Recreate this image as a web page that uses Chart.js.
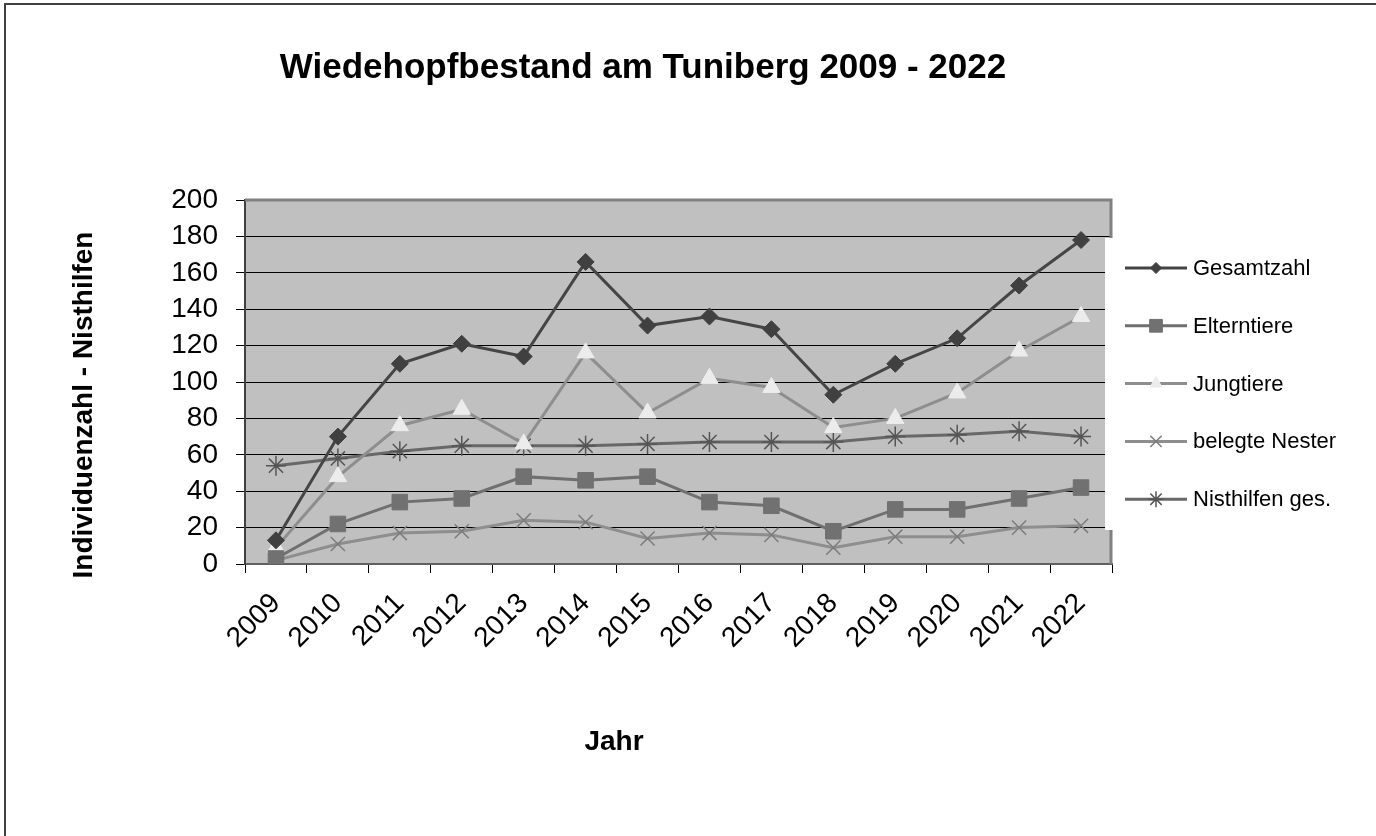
<!DOCTYPE html>
<html>
<head>
<meta charset="utf-8">
<title>Wiedehopfbestand am Tuniberg</title>
<script src="https://cdn.jsdelivr.net/npm/chart.js"></script>
<style>
  body { margin: 0; background: #fff; }
  #container { width: 1376px; height: 836px; }
</style>
</head>
<body>
<div id="container">
  <canvas id="chart" width="1376" height="836"></canvas>
</div>
<script>
'use strict';

// Data
const years = ['2009', '2010', '2011', '2012', '2013', '2014', '2015', '2016', '2017', '2018', '2019', '2020', '2021', '2022'];
const gesamtzahl = [13, 70, 110, 121, 114, 166, 131, 136, 129, 93, 110, 124, 153, 178];
const elterntiere = [3, 22, 34, 36, 48, 46, 48, 34, 32, 18, 30, 30, 36, 42];
const jungtiere = [9, 48, 76, 85, 66, 116, 83, 102, 97, 75, 80, 94, 117, 136];
const belegteNester = [2, 11, 17, 18, 24, 23, 14, 17, 16, 9, 15, 15, 20, 21];
const nisthilfen = [54, 58, 62, 65, 65, 65, 66, 67, 67, 67, 70, 71, 73, 70];

const yTicks = [0, 20, 40, 60, 80, 100, 120, 140, 160, 180, 200];

const chartTitle = 'Wiedehopfbestand am Tuniberg 2009 - 2022';
const yTitle = 'Individuenzahl - Nisthilfen';
const xTitle = 'Jahr';

const FONT = '"Liberation Sans", Arial, sans-serif';

// legend marker sizes (smaller than in the plot)
let legendRadius = [5.5, 9, 7, 8, 8];

// background, frame, titles and legend
const decoration = {
  id: 'decoration',
  beforeDraw(chart) {
    let ctx = chart.ctx;
    let area = chart.chartArea;
    ctx.save();
    ctx.fillStyle = '#ffffff';
    ctx.fillRect(0, 0, chart.width, chart.height);
    ctx.fillStyle = '#c0c0c0';
    ctx.fillRect(area.left, area.top, area.right - area.left, area.bottom - area.top);
    ctx.restore();
  },
  afterDraw(chart) {
    let ctx = chart.ctx;
    let area = chart.chartArea;
    ctx.save();

    // plot border top and right
    ctx.strokeStyle = '#808080';
    ctx.lineWidth = 3;
    ctx.beginPath();
    ctx.moveTo(area.left, area.top);
    ctx.lineTo(area.right - 1, area.top);
    ctx.lineTo(area.right - 1, area.bottom);
    ctx.stroke();

    // outer frame, only left and top are inside the picture
    ctx.strokeStyle = '#404040';
    ctx.lineWidth = 2;
    ctx.beginPath();
    ctx.moveTo(5, chart.height);
    ctx.lineTo(5, 4);
    ctx.lineTo(chart.width, 4);
    ctx.stroke();

    // titles
    ctx.fillStyle = '#000';
    ctx.textAlign = 'center';
    ctx.textBaseline = 'alphabetic';
    ctx.font = 'bold 35px ' + FONT;
    ctx.fillText(chartTitle, 643, 78);

    ctx.font = 'bold 28px ' + FONT;
    ctx.fillText(xTitle, 614, 750);

    ctx.save();
    ctx.translate(92, 405);
    ctx.rotate(-Math.PI / 2);
    ctx.fillText(yTitle, 0, 0);
    ctx.restore();

    // legend box
    ctx.fillStyle = '#ffffff';
    ctx.fillRect(1105, 238, chart.width - 1105, 292);

    ctx.font = '22px ' + FONT;
    ctx.textAlign = 'left';
    ctx.textBaseline = 'middle';
    chart.data.datasets.forEach(function (ds, i) {
      let y = 268 + i * 57.8;
      ctx.strokeStyle = ds.borderColor;
      ctx.lineWidth = 3;
      ctx.beginPath();
      ctx.moveTo(1125, y);
      ctx.lineTo(1187, y);
      ctx.stroke();
      if (Chart.helpers && Chart.helpers.drawPoint) {
        ctx.fillStyle = ds.pointBackgroundColor;
        ctx.strokeStyle = ds.pointBorderColor;
        ctx.lineWidth = ds.pointBorderWidth;
        Chart.helpers.drawPoint(ctx, {
          pointStyle: ds.pointStyle,
          radius: legendRadius[i],
          rotation: 0,
          borderWidth: ds.pointBorderWidth
        }, 1156, y);
      }
      ctx.fillStyle = '#000';
      ctx.fillText(ds.label, 1193, y + 1);
    });

    ctx.restore();
  }
};

let myChartData = {
  type: 'line',
  data: {
    labels: years,
    datasets: [{
      label: 'Gesamtzahl',
      data: gesamtzahl,
      borderColor: '#454545',
      borderWidth: 3,
      pointStyle: 'rectRot',
      pointRadius: 8.5,
      pointBackgroundColor: '#404040',
      pointBorderColor: '#404040',
      pointBorderWidth: 1
    },
    {
      label: 'Elterntiere',
      data: elterntiere,
      borderColor: '#707070',
      borderWidth: 3,
      pointStyle: 'rect',
      pointRadius: 11,
      pointBackgroundColor: '#717171',
      pointBorderColor: '#717171',
      pointBorderWidth: 1
    },
    {
      label: 'Jungtiere',
      data: jungtiere,
      borderColor: '#8e8e8e',
      borderWidth: 3,
      pointStyle: 'triangle',
      pointRadius: 10,
      pointBackgroundColor: '#ececec',
      pointBorderColor: '#ececec',
      pointBorderWidth: 1
    },
    {
      label: 'belegte Nester',
      data: belegteNester,
      borderColor: '#8e8e8e',
      borderWidth: 3,
      pointStyle: 'crossRot',
      pointRadius: 10,
      pointBackgroundColor: '#808080',
      pointBorderColor: '#7c7c7c',
      pointBorderWidth: 1.5
    },
    {
      label: 'Nisthilfen ges.',
      data: nisthilfen,
      borderColor: '#686868',
      borderWidth: 3,
      pointStyle: 'star',
      pointRadius: 10,
      pointBackgroundColor: '#555555',
      pointBorderColor: '#555555',
      pointBorderWidth: 1.5
    }]
  },
  options: {
    responsive: false,
    animation: false,
    events: [],
    layout: {
      padding: { left: 0, top: 200, right: 264, bottom: 0 }
    },
    elements: {
      line: { tension: 0 }
    },
    plugins: {
      legend: { display: false },
      title: { display: false },
      tooltip: { enabled: false }
    },
    scales: {
      x: {
        offset: true,
        afterFit: function (scale) { scale.height = 272; },
        grid: {
          offset: true,
          drawOnChartArea: false,
          drawTicks: true,
          tickLength: 9,
          color: '#000000',
          lineWidth: 1
        },
        border: { color: '#606060', width: 2 },
        ticks: {
          color: '#000',
          font: { family: FONT, size: 28 },
          minRotation: 45,
          maxRotation: 45,
          padding: 14,
          autoSkip: false
        }
      },
      y: {
        min: 0,
        max: 200,
        afterFit: function (scale) { scale.width = 245; },
        afterBuildTicks: function (scale) {
          scale.ticks = yTicks.map(function (v) { return { value: v }; });
        },
        grid: {
          color: '#000000',
          lineWidth: 1,
          tickLength: 9
        },
        border: { color: '#404040', width: 2 },
        ticks: {
          color: '#000',
          font: { family: FONT, size: 28 },
          padding: 18,
          autoSkip: false
        }
      }
    }
  },
  plugins: [decoration]
};

const ctx = document.getElementById('chart').getContext('2d');
let myChart = new Chart(ctx, myChartData);
</script>
</body>
</html>
